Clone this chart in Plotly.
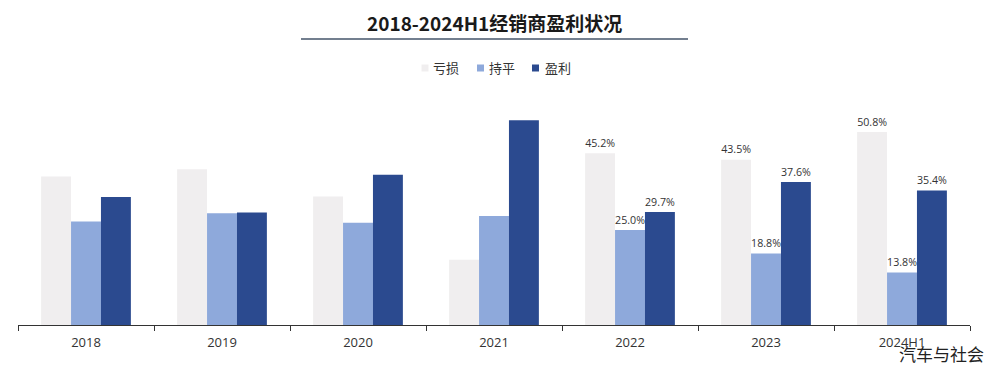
import plotly.graph_objects as go

categories = ["2018", "2019", "2020", "2021", "2022", "2023", "2024H1"]
loss = [39.1, 41.0, 33.8, 17.2, 45.2, 43.5, 50.8]
even = [27.2, 29.4, 26.9, 28.7, 25.0, 18.8, 13.8]
profit = [33.7, 29.6, 39.5, 53.9, 29.7, 37.6, 35.4]
labeled_years = ["2022", "2023", "2024H1"]
series_names = ["亏损", "持平", "盈利"]
colors = ["#F0EEEF", "#8EA9DB", "#2B4A8F"]

# page offset of 8px (body margin); plot area in page px: x 18..970, y 100..325
def px(X):
    return (X - 18) / 952

def py(Y):
    return (325 - Y) / 225

def labels(vals):
    return [f"{v:.1f}%" if c in labeled_years else "" for c, v in zip(categories, vals)]

fig = go.Figure()
for name, vals, col in zip(series_names, [loss, even, profit], colors):
    fig.add_trace(go.Bar(
        x=categories, y=vals, name=name, marker=dict(color=col, line=dict(width=0)),
        text=labels(vals), textposition="outside", cliponaxis=False,
        textfont=dict(size=12.5, color="#333333", family="Open Sans, Noto Sans CJK SC"),
        showlegend=False,
    ))

fig.update_layout(
    width=991, height=362,
    margin=dict(l=10, r=29, t=92, b=45),
    paper_bgcolor="white", plot_bgcolor="white",
    barmode="group", bargap=0.34, bargroupgap=0,
    font=dict(family="Open Sans, Noto Sans CJK SC", size=13, color="#333333"),
    xaxis=dict(type="category", tickson="boundaries", ticks="outside", ticklen=5,
               tickcolor="#333333", showline=True, linecolor="#333333", linewidth=1,
               showgrid=False, ticklabelstandoff=5,
               tickfont=dict(size=13, color="#333333")),
    yaxis=dict(range=[0, 59.2], visible=False, showgrid=False, zeroline=False),
)

# title
fig.add_annotation(text="<b>2018-2024H1经销商盈利状况</b>", xref="paper", yref="paper",
                   x=px(494), xanchor="center", y=py(22), yanchor="middle", showarrow=False,
                   font=dict(size=19, color="#1a1a1a", family="Noto Sans CJK SC"))
fig.add_shape(type="line", xref="paper", yref="paper",
              x0=px(301), x1=px(688), y0=py(39), y1=py(39),
              line=dict(color="#44546A", width=1.5))

# legend
sq_x = [425, 480.5, 535.5]
txt_x = [431, 487, 543]
for name, col, sx, tx in zip(series_names, colors, sq_x, txt_x):
    fig.add_shape(type="rect", xref="paper", yref="paper",
                  x0=px(sx - 3.5), x1=px(sx + 3.5), y0=py(68 + 3.5), y1=py(68 - 3.5),
                  fillcolor=col, line=dict(width=0))
    fig.add_annotation(text=name, xref="paper", yref="paper", x=px(tx), xanchor="left",
                       y=py(68), yanchor="middle", showarrow=False,
                       font=dict(size=13, color="#333333", family="Noto Sans CJK SC"))

fig.add_annotation(text="汽车与社会", xref="paper", yref="paper",
                   x=px(986), xanchor="right", y=py(353), yanchor="middle",
                   showarrow=False, font=dict(size=17, color="#222222", family="Noto Sans CJK SC"))

fig.write_html("out.html")
